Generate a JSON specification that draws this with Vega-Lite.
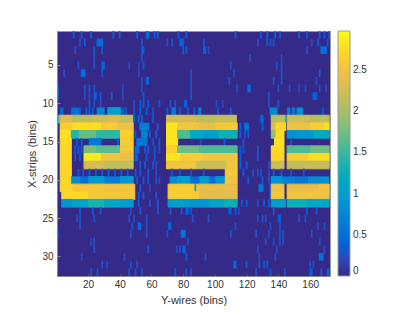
{"$schema":"https://vega.github.io/schema/vega-lite/v6.json","width":273,"height":245,"autosize":"none","padding":{"left":57,"top":31,"right":77,"bottom":42},"background":"white","view":{"fill":"#352A87","stroke":"#999"},
"data":{"values":[
{"x":10.5,"x2":11.5,"y":1,"v":0.4},{"x":15.5,"x2":16.5,"y":1,"v":0.32},{"x":21.5,"x2":22.5,"y":1,"v":0.32},{"x":35.5,"x2":36.5,"y":1,"v":0.32},{"x":39.5,"x2":40.5,"y":1,"v":0.32},{"x":50.5,"x2":51.5,"y":1,"v":0.4},{"x":56.5,"x2":58.5,"y":1,"v":0.5},{"x":61.5,"x2":62.5,"y":1,"v":0.32},{"x":63.5,"x2":64.5,"y":1,"v":0.4},{"x":76.5,"x2":77.5,"y":1,"v":0.32},{"x":81.5,"x2":82.5,"y":1,"v":0.32},{"x":112.5,"x2":113.5,"y":1,"v":0.32},{"x":128.5,"x2":129.5,"y":1,"v":0.32},{"x":132.5,"x2":133.5,"y":1,"v":0.32},{"x":137.5,"x2":138.5,"y":1,"v":0.4},{"x":140.5,"x2":141.5,"y":1,"v":0.32},{"x":152.5,"x2":153.5,"y":1,"v":0.32},{"x":157.5,"x2":158.5,"y":1,"v":0.32},{"x":165.5,"x2":166.5,"y":1,"v":0.32},{"x":168.5,"x2":169.5,"y":1,"v":0.32},{"x":171.5,"x2":172.5,"y":1,"v":0.32},
{"x":14.5,"x2":15.5,"y":2,"v":0.25},{"x":17.5,"x2":18.5,"y":2,"v":0.4},{"x":25.5,"x2":29.5,"y":2,"v":0.5},{"x":53.5,"x2":54.5,"y":2,"v":0.32},{"x":69.5,"x2":70.5,"y":2,"v":0.25},{"x":72.5,"x2":73.5,"y":2,"v":0.32},{"x":77.5,"x2":80.5,"y":2,"v":0.38},{"x":92.5,"x2":93.5,"y":2,"v":0.32},{"x":126.5,"x2":127.5,"y":2,"v":0.25},{"x":132.5,"x2":133.5,"y":2,"v":0.32},{"x":134.5,"x2":135.5,"y":2,"v":0.32},{"x":136.5,"x2":137.5,"y":2,"v":0.32},{"x":160.5,"x2":161.5,"y":2,"v":0.25},{"x":164.5,"x2":165.5,"y":2,"v":0.32},{"x":170.5,"x2":171.5,"y":2,"v":0.32},
{"x":11.5,"x2":12.5,"y":3,"v":0.25},{"x":23.5,"x2":24.5,"y":3,"v":0.32},{"x":28.5,"x2":29.5,"y":3,"v":0.32},{"x":53.5,"x2":55.5,"y":3,"v":0.38},{"x":79.5,"x2":80.5,"y":3,"v":0.32},{"x":81.5,"x2":82.5,"y":3,"v":0.32},{"x":92.5,"x2":94.5,"y":3,"v":0.38},{"x":95.5,"x2":96.5,"y":3,"v":0.25},{"x":157.5,"x2":158.5,"y":3,"v":0.28},{"x":166.5,"x2":170.5,"y":3,"v":0.55},
{"x":23.5,"x2":24.5,"y":4,"v":0.25},{"x":53.5,"x2":54.5,"y":4,"v":0.28},{"x":121.5,"x2":122.5,"y":4,"v":0.25},{"x":141.5,"x2":142.5,"y":4,"v":0.25},
{"x":13.5,"x2":14.5,"y":5,"v":0.25},{"x":23.5,"x2":24.5,"y":5,"v":0.25},{"x":28.5,"x2":30.5,"y":5,"v":0.45},{"x":45.5,"x2":46.5,"y":5,"v":0.25},{"x":51.5,"x2":52.5,"y":5,"v":0.25},{"x":54.5,"x2":55.5,"y":5,"v":0.28},{"x":109.5,"x2":110.5,"y":5,"v":0.28},{"x":138.5,"x2":139.5,"y":5,"v":0.28},{"x":141.5,"x2":142.5,"y":5,"v":0.28},
{"x":4.5,"x2":5.5,"y":6,"v":0.25},{"x":15.5,"x2":18.5,"y":6,"v":0.5},{"x":28.5,"x2":29.5,"y":6,"v":0.28},{"x":51.5,"x2":52.5,"y":6,"v":0.25},{"x":84.5,"x2":85.5,"y":6,"v":0.28},{"x":111.5,"x2":112.5,"y":6,"v":0.25},{"x":141.5,"x2":142.5,"y":6,"v":0.28},{"x":165.5,"x2":166.5,"y":6,"v":0.28},
{"x":53.5,"x2":54.5,"y":7,"v":0.25},{"x":56.5,"x2":58.5,"y":7,"v":0.42},{"x":84.5,"x2":85.5,"y":7,"v":0.28},{"x":108.5,"x2":109.5,"y":7,"v":0.28},{"x":136.5,"x2":137.5,"y":7,"v":0.25},{"x":141.5,"x2":142.5,"y":7,"v":0.28},{"x":163.5,"x2":164.5,"y":7,"v":0.28},
{"x":0.5,"x2":1.5,"y":8,"v":0.55},{"x":17.5,"x2":18.5,"y":8,"v":0.28},{"x":20.5,"x2":21.5,"y":8,"v":0.32},{"x":23.5,"x2":24.5,"y":8,"v":0.28},{"x":41.5,"x2":42.5,"y":8,"v":0.25},{"x":53.5,"x2":54.5,"y":8,"v":0.28},{"x":84.5,"x2":85.5,"y":8,"v":0.28},{"x":113.5,"x2":114.5,"y":8,"v":0.28},{"x":120.5,"x2":122.5,"y":8,"v":0.5},{"x":139.5,"x2":140.5,"y":8,"v":0.28},{"x":146.5,"x2":147.5,"y":8,"v":0.25},{"x":152.5,"x2":153.5,"y":8,"v":0.25},{"x":156.5,"x2":157.5,"y":8,"v":0.25},{"x":165.5,"x2":166.5,"y":8,"v":0.25},{"x":169.5,"x2":170.5,"y":8,"v":0.25},
{"x":0.5,"x2":1.5,"y":9,"v":0.55},{"x":17.5,"x2":18.5,"y":9,"v":0.25},{"x":20.5,"x2":21.5,"y":9,"v":0.28},{"x":23.5,"x2":25.5,"y":9,"v":0.38},{"x":27.5,"x2":28.5,"y":9,"v":0.28},{"x":34.5,"x2":35.5,"y":9,"v":0.28},{"x":41.5,"x2":42.5,"y":9,"v":0.25},{"x":54.5,"x2":55.5,"y":9,"v":0.32},{"x":84.5,"x2":85.5,"y":9,"v":0.28},{"x":133.5,"x2":134.5,"y":9,"v":0.28},{"x":161.5,"x2":164.5,"y":9,"v":0.38},
{"x":20.5,"x2":21.5,"y":10,"v":0.32},{"x":23.5,"x2":24.5,"y":10,"v":0.28},{"x":27.5,"x2":28.5,"y":10,"v":0.32},{"x":48.5,"x2":49.5,"y":10,"v":0.25},{"x":52.5,"x2":53.5,"y":10,"v":0.32},{"x":54.5,"x2":55.5,"y":10,"v":0.32},{"x":57.5,"x2":58.5,"y":10,"v":0.32},{"x":64.5,"x2":65.5,"y":10,"v":0.25},{"x":71.5,"x2":72.5,"y":10,"v":0.28},{"x":74.5,"x2":75.5,"y":10,"v":0.25},{"x":80.5,"x2":82.5,"y":10,"v":0.38},{"x":100.5,"x2":101.5,"y":10,"v":0.25},{"x":104.5,"x2":105.5,"y":10,"v":0.25},{"x":133.5,"x2":134.5,"y":10,"v":0.28},{"x":139.5,"x2":140.5,"y":10,"v":0.32},
{"x":2.5,"x2":4.5,"y":11,"v":0.5},{"x":9.5,"x2":14.5,"y":11,"v":0.55},{"x":14.5,"x2":15.5,"y":11,"v":0.35},{"x":18.5,"x2":19.5,"y":11,"v":0.4},{"x":20.5,"x2":21.5,"y":11,"v":0.4},{"x":22.5,"x2":23.5,"y":11,"v":0.35},{"x":25.5,"x2":30.5,"y":11,"v":0.75},{"x":32.5,"x2":40.5,"y":11,"v":1.0},{"x":41.5,"x2":42.5,"y":11,"v":0.5},{"x":43.5,"x2":44.5,"y":11,"v":0.5},{"x":48.5,"x2":49.5,"y":11,"v":0.4},{"x":52.5,"x2":53.5,"y":11,"v":0.4},{"x":56.5,"x2":57.5,"y":11,"v":0.4},{"x":60.5,"x2":61.5,"y":11,"v":0.32},{"x":69.5,"x2":70.5,"y":11,"v":0.4},{"x":72.5,"x2":75.5,"y":11,"v":0.6},{"x":77.5,"x2":78.5,"y":11,"v":0.4},{"x":82.5,"x2":83.5,"y":11,"v":0.4},{"x":86.5,"x2":87.5,"y":11,"v":0.4},{"x":89.5,"x2":91.5,"y":11,"v":0.6},{"x":101.5,"x2":102.5,"y":11,"v":0.32},{"x":109.5,"x2":110.5,"y":11,"v":0.32},{"x":134.5,"x2":139.5,"y":11,"v":0.75},{"x":145.5,"x2":147.5,"y":11,"v":0.7},{"x":148.5,"x2":150.5,"y":11,"v":0.6},{"x":151.5,"x2":155.5,"y":11,"v":0.85},{"x":167.5,"x2":168.5,"y":11,"v":0.4},
{"x":1.5,"x2":2.5,"y":12,"v":1.6},{"x":2.5,"x2":10.5,"y":12,"v":2.3},{"x":10.5,"x2":22.5,"y":12,"v":2.1},{"x":22.5,"x2":32.5,"y":12,"v":2.2},{"x":32.5,"x2":40.5,"y":12,"v":2.3},{"x":40.5,"x2":48.5,"y":12,"v":2.15},
{"x":48.5,"x2":49.5,"y":12,"v":0.45},{"x":51.5,"x2":52.5,"y":12,"v":0.5},{"x":53.5,"x2":54.5,"y":12,"v":0.5},{"x":60.5,"x2":61.5,"y":12,"v":0.32},{"x":69.5,"x2":76.5,"y":12,"v":2.2},{"x":76.5,"x2":88.5,"y":12,"v":2.25},{"x":88.5,"x2":100.5,"y":12,"v":2.1},{"x":100.5,"x2":113.5,"y":12,"v":2.15},{"x":128.5,"x2":130.5,"y":12,"v":0.45},{"x":135.5,"x2":144.5,"y":12,"v":2.1},{"x":144.5,"x2":145.5,"y":12,"v":0.7},{"x":145.5,"x2":160.5,"y":12,"v":2.2},{"x":160.5,"x2":172,"y":12,"v":2.1},
{"x":2.5,"x2":10.5,"y":13,"v":2.6},{"x":10.5,"x2":28.5,"y":13,"v":2.75},{"x":28.5,"x2":38.5,"y":13,"v":2.6},{"x":38.5,"x2":48.5,"y":13,"v":2.45},{"x":52.5,"x2":58.5,"y":13,"v":0.7},{"x":63.5,"x2":64.5,"y":13,"v":0.32},{"x":69.5,"x2":76.5,"y":13,"v":2.8},{"x":76.5,"x2":90.5,"y":13,"v":2.5},{"x":90.5,"x2":100.5,"y":13,"v":2.4},{"x":100.5,"x2":114,"y":13,"v":2.55},{"x":115.5,"x2":116.5,"y":13,"v":0.4},{"x":118.5,"x2":121.5,"y":13,"v":0.5},{"x":129.5,"x2":130.5,"y":13,"v":0.4},{"x":135.5,"x2":138.5,"y":13,"v":2.3},{"x":138.5,"x2":144.5,"y":13,"v":2.7},{"x":145.5,"x2":160.5,"y":13,"v":2.45},{"x":160.5,"x2":168.5,"y":13,"v":2.6},{"x":168.5,"x2":172,"y":13,"v":2.75},
{"x":2.5,"x2":9.5,"y":14,"v":2.8},{"x":9.5,"x2":14.5,"y":14,"v":1.4},{"x":14.5,"x2":25.5,"y":14,"v":1.7},{"x":25.5,"x2":40.5,"y":14,"v":1.45},{"x":40.5,"x2":48.5,"y":14,"v":2.65},{"x":49.5,"x2":50.5,"y":14,"v":0.4},{"x":53.5,"x2":57.5,"y":14,"v":0.75},{"x":58.5,"x2":59.5,"y":14,"v":0.32},{"x":62.5,"x2":63.5,"y":14,"v":0.32},{"x":69.5,"x2":76.5,"y":14,"v":2.8},{"x":76.5,"x2":84.5,"y":14,"v":1.6},{"x":84.5,"x2":92.5,"y":14,"v":1.2},{"x":92.5,"x2":102.5,"y":14,"v":1.05},{"x":102.5,"x2":114,"y":14,"v":1.3},{"x":115.5,"x2":116.5,"y":14,"v":0.32},{"x":118.5,"x2":119.5,"y":14,"v":0.4},{"x":120.5,"x2":121.5,"y":14,"v":0.32},{"x":135.5,"x2":138.5,"y":14,"v":1.9},{"x":138.5,"x2":143.5,"y":14,"v":2.75},{"x":145.5,"x2":152.5,"y":14,"v":0.9},{"x":152.5,"x2":162.5,"y":14,"v":0.95},{"x":162.5,"x2":172,"y":14,"v":1.2},
{"x":2.5,"x2":9.5,"y":15,"v":2.75},{"x":12.5,"x2":13.5,"y":15,"v":0.4},{"x":15.5,"x2":16.5,"y":15,"v":0.32},{"x":20.5,"x2":28.5,"y":15,"v":0.6},{"x":38.5,"x2":39.5,"y":15,"v":0.4},{"x":40.5,"x2":48.5,"y":15,"v":2.6},{"x":50.5,"x2":57.5,"y":15,"v":0.6},{"x":60.5,"x2":61.5,"y":15,"v":0.32},{"x":64.5,"x2":65.5,"y":15,"v":0.32},{"x":69.5,"x2":76.5,"y":15,"v":2.8},{"x":90.5,"x2":91.5,"y":15,"v":0.25},{"x":105.5,"x2":106.5,"y":15,"v":0.32},{"x":117.5,"x2":118.5,"y":15,"v":0.25},{"x":137.5,"x2":143.5,"y":15,"v":2.8},{"x":147.5,"x2":148.5,"y":15,"v":0.25},
{"x":2.5,"x2":9.5,"y":16,"v":2.7},{"x":11.5,"x2":12.5,"y":16,"v":0.4},{"x":13.5,"x2":14.5,"y":16,"v":0.32},{"x":15.5,"x2":16.5,"y":16,"v":0.32},{"x":17.5,"x2":25.5,"y":16,"v":1.8},{"x":25.5,"x2":40.5,"y":16,"v":1.65},{"x":40.5,"x2":48.5,"y":16,"v":2.55},{"x":49.5,"x2":52.5,"y":16,"v":0.5},{"x":55.5,"x2":56.5,"y":16,"v":0.32},{"x":57.5,"x2":58.5,"y":16,"v":0.32},{"x":61.5,"x2":62.5,"y":16,"v":0.32},{"x":64.5,"x2":65.5,"y":16,"v":0.25},{"x":69.5,"x2":76.5,"y":16,"v":2.65},{"x":76.5,"x2":90.5,"y":16,"v":1.75},{"x":90.5,"x2":114,"y":16,"v":1.6},{"x":115.5,"x2":116.5,"y":16,"v":0.4},{"x":117.5,"x2":118.5,"y":16,"v":0.32},{"x":126.5,"x2":127.5,"y":16,"v":0.32},{"x":135.5,"x2":143.5,"y":16,"v":2.75},{"x":145.5,"x2":160.5,"y":16,"v":1.6},{"x":160.5,"x2":172,"y":16,"v":1.75},
{"x":2.5,"x2":9.5,"y":17,"v":2.7},{"x":11.5,"x2":12.5,"y":17,"v":0.32},{"x":14.5,"x2":15.5,"y":17,"v":0.32},{"x":17.5,"x2":28.5,"y":17,"v":2.85},{"x":28.5,"x2":40.5,"y":17,"v":2.5},{"x":40.5,"x2":48.5,"y":17,"v":2.4},{"x":49.5,"x2":51.5,"y":17,"v":0.45},{"x":56.5,"x2":57.5,"y":17,"v":0.32},{"x":61.5,"x2":62.5,"y":17,"v":0.32},{"x":69.5,"x2":78.5,"y":17,"v":2.8},{"x":78.5,"x2":92.5,"y":17,"v":2.6},{"x":92.5,"x2":114,"y":17,"v":2.5},{"x":115.5,"x2":116.5,"y":17,"v":0.4},{"x":126.5,"x2":127.5,"y":17,"v":0.32},{"x":135.5,"x2":143.5,"y":17,"v":2.7},{"x":145.5,"x2":158.5,"y":17,"v":2.6},{"x":158.5,"x2":172,"y":17,"v":2.75},
{"x":2.5,"x2":9.5,"y":18,"v":2.7},{"x":17.5,"x2":30.5,"y":18,"v":2.25},{"x":30.5,"x2":48.5,"y":18,"v":2.15},{"x":52.5,"x2":53.5,"y":18,"v":0.32},{"x":55.5,"x2":56.5,"y":18,"v":0.32},{"x":60.5,"x2":61.5,"y":18,"v":0.32},{"x":62.5,"x2":63.5,"y":18,"v":0.25},{"x":69.5,"x2":88.5,"y":18,"v":2.5},{"x":88.5,"x2":107.5,"y":18,"v":2.2},{"x":107.5,"x2":114,"y":18,"v":2.5},{"x":115.5,"x2":116.5,"y":18,"v":0.4},{"x":119.5,"x2":120.5,"y":18,"v":0.32},{"x":133.5,"x2":134.5,"y":18,"v":0.25},{"x":135.5,"x2":143.5,"y":18,"v":2.2},{"x":145.5,"x2":172,"y":18,"v":2.15},
{"x":2.5,"x2":9.5,"y":19,"v":2.7},{"x":13.5,"x2":14.5,"y":19,"v":0.32},{"x":16.5,"x2":17.5,"y":19,"v":0.32},{"x":20.5,"x2":21.5,"y":19,"v":0.32},{"x":24.5,"x2":25.5,"y":19,"v":0.32},{"x":28.5,"x2":29.5,"y":19,"v":0.32},{"x":32.5,"x2":33.5,"y":19,"v":0.32},{"x":36.5,"x2":37.5,"y":19,"v":0.32},{"x":40.5,"x2":41.5,"y":19,"v":0.32},{"x":44.5,"x2":45.5,"y":19,"v":0.32},{"x":49.5,"x2":50.5,"y":19,"v":0.32},{"x":52.5,"x2":53.5,"y":19,"v":0.32},{"x":57.5,"x2":58.5,"y":19,"v":0.32},{"x":62.5,"x2":63.5,"y":19,"v":0.25},{"x":72.5,"x2":73.5,"y":19,"v":0.32},{"x":77.5,"x2":78.5,"y":19,"v":0.32},{"x":84.5,"x2":85.5,"y":19,"v":0.25},{"x":92.5,"x2":93.5,"y":19,"v":0.25},{"x":106.5,"x2":114,"y":19,"v":2.55},{"x":117.5,"x2":118.5,"y":19,"v":0.32},{"x":123.5,"x2":124.5,"y":19,"v":0.25},{"x":126.5,"x2":127.5,"y":19,"v":0.25},{"x":128.5,"x2":129.5,"y":19,"v":0.32},{"x":133.5,"x2":134.5,"y":19,"v":0.25},{"x":136.5,"x2":137.5,"y":19,"v":0.32},{"x":141.5,"x2":142.5,"y":19,"v":0.32},{"x":147.5,"x2":148.5,"y":19,"v":0.25},{"x":155.5,"x2":156.5,"y":19,"v":0.25},
{"x":2.5,"x2":9.5,"y":20,"v":2.7},{"x":9.5,"x2":15.5,"y":20,"v":0.8},{"x":15.5,"x2":20.5,"y":20,"v":0.5},{"x":20.5,"x2":30.5,"y":20,"v":0.95},{"x":30.5,"x2":40.5,"y":20,"v":0.7},{"x":40.5,"x2":48.5,"y":20,"v":0.95},{"x":50.5,"x2":51.5,"y":20,"v":0.32},{"x":54.5,"x2":55.5,"y":20,"v":0.32},{"x":57.5,"x2":58.5,"y":20,"v":0.32},{"x":62.5,"x2":63.5,"y":20,"v":0.25},{"x":64.5,"x2":65.5,"y":20,"v":0.25},{"x":71.5,"x2":76.5,"y":20,"v":0.8},{"x":76.5,"x2":84.5,"y":20,"v":1.0},{"x":84.5,"x2":90.5,"y":20,"v":0.5},{"x":90.5,"x2":96.5,"y":20,"v":1.0},{"x":96.5,"x2":100.5,"y":20,"v":0.5},{"x":100.5,"x2":106.5,"y":20,"v":0.9},{"x":106.5,"x2":114,"y":20,"v":2.5},{"x":120.5,"x2":121.5,"y":20,"v":0.32},{"x":129.5,"x2":130.5,"y":20,"v":0.32},{"x":133.5,"x2":134.5,"y":20,"v":0.25},{"x":135.5,"x2":142.5,"y":20,"v":0.9},{"x":142.5,"x2":150.5,"y":20,"v":0.7},{"x":150.5,"x2":158.5,"y":20,"v":0.6},{"x":158.5,"x2":172,"y":20,"v":0.85},
{"x":2.5,"x2":10.5,"y":21,"v":2.7},{"x":10.5,"x2":30.5,"y":21,"v":2.55},{"x":30.5,"x2":49.5,"y":21,"v":2.5},{"x":52.5,"x2":53.5,"y":21,"v":0.32},{"x":58.5,"x2":59.5,"y":21,"v":0.25},{"x":70.5,"x2":87.5,"y":21,"v":2.6},{"x":87.5,"x2":88.5,"y":21,"v":1.0},{"x":88.5,"x2":114,"y":21,"v":2.4},{"x":127.5,"x2":130.5,"y":21,"v":0.6},{"x":134.5,"x2":135.5,"y":21,"v":0.32},{"x":135.5,"x2":143.5,"y":21,"v":2.45},{"x":145.5,"x2":165.5,"y":21,"v":2.4},{"x":165.5,"x2":172,"y":21,"v":2.5},
{"x":3.5,"x2":20.5,"y":22,"v":2.7},{"x":20.5,"x2":30.5,"y":22,"v":2.55},{"x":30.5,"x2":49.5,"y":22,"v":2.55},{"x":51.5,"x2":52.5,"y":22,"v":0.32},{"x":54.5,"x2":55.5,"y":22,"v":0.32},{"x":62.5,"x2":63.5,"y":22,"v":0.25},{"x":70.5,"x2":90.5,"y":22,"v":2.6},{"x":90.5,"x2":114,"y":22,"v":2.35},{"x":134.5,"x2":135.5,"y":22,"v":0.32},{"x":135.5,"x2":143.5,"y":22,"v":2.55},{"x":145.5,"x2":172,"y":22,"v":2.5},
{"x":3.5,"x2":10.5,"y":23,"v":0.9},{"x":10.5,"x2":20.5,"y":23,"v":1.1},{"x":20.5,"x2":30.5,"y":23,"v":1.35},{"x":30.5,"x2":40.5,"y":23,"v":1.15},{"x":40.5,"x2":48.5,"y":23,"v":1.0},{"x":51.5,"x2":52.5,"y":23,"v":0.4},{"x":58.5,"x2":59.5,"y":23,"v":0.32},{"x":63.5,"x2":64.5,"y":23,"v":0.32},{"x":70.5,"x2":84.5,"y":23,"v":1.05},{"x":84.5,"x2":96.5,"y":23,"v":0.9},{"x":96.5,"x2":105.5,"y":23,"v":1.1},{"x":105.5,"x2":114,"y":23,"v":1.3},{"x":116.5,"x2":117.5,"y":23,"v":0.32},{"x":119.5,"x2":120.5,"y":23,"v":0.32},{"x":126.5,"x2":127.5,"y":23,"v":0.25},{"x":130.5,"x2":131.5,"y":23,"v":0.32},{"x":133.5,"x2":134.5,"y":23,"v":0.32},{"x":135.5,"x2":144.5,"y":23,"v":1.0},{"x":145.5,"x2":158.5,"y":23,"v":1.3},{"x":158.5,"x2":172,"y":23,"v":1.15},
{"x":14.5,"x2":15.5,"y":24,"v":0.32},{"x":22.5,"x2":23.5,"y":24,"v":0.36},{"x":27.5,"x2":28.5,"y":24,"v":0.28},{"x":46.5,"x2":47.5,"y":24,"v":0.25},{"x":52.5,"x2":53.5,"y":24,"v":0.28},{"x":63.5,"x2":64.5,"y":24,"v":0.28},{"x":71.5,"x2":72.5,"y":24,"v":0.28},{"x":78.5,"x2":79.5,"y":24,"v":0.28},{"x":81.5,"x2":83.5,"y":24,"v":0.42},{"x":84.5,"x2":85.5,"y":24,"v":0.28},{"x":108.5,"x2":110.5,"y":24,"v":0.38},{"x":112.5,"x2":113.5,"y":24,"v":0.28},{"x":114.5,"x2":115.5,"y":24,"v":0.28},{"x":136.5,"x2":137.5,"y":24,"v":0.28},{"x":157.5,"x2":158.5,"y":24,"v":0.32},{"x":163.5,"x2":164.5,"y":24,"v":0.28},
{"x":12.5,"x2":13.5,"y":25,"v":0.25},{"x":14.5,"x2":15.5,"y":25,"v":0.32},{"x":23.5,"x2":24.5,"y":25,"v":0.28},{"x":45.5,"x2":46.5,"y":25,"v":0.25},{"x":48.5,"x2":49.5,"y":25,"v":0.28},{"x":56.5,"x2":57.5,"y":25,"v":0.28},{"x":85.5,"x2":86.5,"y":25,"v":0.25},{"x":95.5,"x2":96.5,"y":25,"v":0.28},{"x":126.5,"x2":127.5,"y":25,"v":0.25},{"x":129.5,"x2":130.5,"y":25,"v":0.25},{"x":131.5,"x2":132.5,"y":25,"v":0.25},{"x":139.5,"x2":141.5,"y":25,"v":0.38},{"x":152.5,"x2":153.5,"y":25,"v":0.25},{"x":156.5,"x2":157.5,"y":25,"v":0.25},
{"x":14.5,"x2":15.5,"y":26,"v":0.28},{"x":47.5,"x2":48.5,"y":26,"v":0.28},{"x":51.5,"x2":53.5,"y":26,"v":0.45},{"x":56.5,"x2":57.5,"y":26,"v":0.28},{"x":70.5,"x2":72.5,"y":26,"v":0.42},{"x":112.5,"x2":113.5,"y":26,"v":0.25},{"x":134.5,"x2":135.5,"y":26,"v":0.25},{"x":140.5,"x2":141.5,"y":26,"v":0.28},{"x":164.5,"x2":165.5,"y":26,"v":0.25},{"x":168.5,"x2":169.5,"y":26,"v":0.25},
{"x":0.5,"x2":1.5,"y":27,"v":0.4},{"x":46.5,"x2":47.5,"y":27,"v":0.28},{"x":56.5,"x2":57.5,"y":27,"v":0.28},{"x":69.5,"x2":70.5,"y":27,"v":0.25},{"x":78.5,"x2":81.5,"y":27,"v":0.55},{"x":109.5,"x2":110.5,"y":27,"v":0.28},{"x":125.5,"x2":126.5,"y":27,"v":0.25},{"x":133.5,"x2":134.5,"y":27,"v":0.28},{"x":140.5,"x2":141.5,"y":27,"v":0.32},{"x":142.5,"x2":143.5,"y":27,"v":0.28},{"x":160.5,"x2":161.5,"y":27,"v":0.25},
{"x":21.5,"x2":22.5,"y":28,"v":0.22},{"x":23.5,"x2":24.5,"y":28,"v":0.28},{"x":82.5,"x2":83.5,"y":28,"v":0.25},{"x":131.5,"x2":132.5,"y":28,"v":0.25},{"x":136.5,"x2":137.5,"y":28,"v":0.25},{"x":140.5,"x2":141.5,"y":28,"v":0.32},{"x":142.5,"x2":143.5,"y":28,"v":0.28},{"x":165.5,"x2":166.5,"y":28,"v":0.25},
{"x":23.5,"x2":24.5,"y":29,"v":0.28},{"x":57.5,"x2":58.5,"y":29,"v":0.28},{"x":75.5,"x2":76.5,"y":29,"v":0.25},{"x":77.5,"x2":78.5,"y":29,"v":0.25},{"x":79.5,"x2":81.5,"y":29,"v":0.42},{"x":126.5,"x2":127.5,"y":29,"v":0.25},{"x":138.5,"x2":139.5,"y":29,"v":0.25},{"x":168.5,"x2":169.5,"y":29,"v":0.25},
{"x":15.5,"x2":16.5,"y":30,"v":0.25},{"x":42.5,"x2":43.5,"y":30,"v":0.22},{"x":81.5,"x2":82.5,"y":30,"v":0.28},{"x":93.5,"x2":94.5,"y":30,"v":0.25},{"x":127.5,"x2":128.5,"y":30,"v":0.25},{"x":137.5,"x2":138.5,"y":30,"v":0.25},{"x":165.5,"x2":168.5,"y":30,"v":0.5},
{"x":28.5,"x2":29.5,"y":31,"v":0.25},{"x":31.5,"x2":32.5,"y":31,"v":0.25},{"x":46.5,"x2":47.5,"y":31,"v":0.28},{"x":50.5,"x2":51.5,"y":31,"v":0.25},{"x":111.5,"x2":113.5,"y":31,"v":0.45},{"x":119.5,"x2":120.5,"y":31,"v":0.25},{"x":127.5,"x2":128.5,"y":31,"v":0.32},{"x":130.5,"x2":131.5,"y":31,"v":0.32},{"x":132.5,"x2":133.5,"y":31,"v":0.32},{"x":159.5,"x2":160.5,"y":31,"v":0.25},{"x":161.5,"x2":162.5,"y":31,"v":0.25},
{"x":21.5,"x2":22.5,"y":32,"v":0.28},{"x":25.5,"x2":26.5,"y":32,"v":0.28},{"x":45.5,"x2":46.5,"y":32,"v":0.28},{"x":49.5,"x2":50.5,"y":32,"v":0.28},{"x":53.5,"x2":54.5,"y":32,"v":0.28},{"x":74.5,"x2":75.5,"y":32,"v":0.28},{"x":81.5,"x2":82.5,"y":32,"v":0.28},{"x":84.5,"x2":85.5,"y":32,"v":0.28},{"x":125.5,"x2":126.5,"y":32,"v":0.25},{"x":134.5,"x2":135.5,"y":32,"v":0.32},{"x":143.5,"x2":144.5,"y":32,"v":0.28},{"x":159.5,"x2":161.5,"y":32,"v":0.38},{"x":166.5,"x2":167.5,"y":32,"v":0.28},{"x":170.5,"x2":172,"y":32,"v":0.42}
]},
"mark":{"type":"rect","clip":true,"stroke":{"expr":"scale('fill',datum.v)"},"strokeWidth":{"expr":"datum.v>0.85?1:0.2"}},
"encoding":{
"x":{"field":"x","type":"quantitative","scale":{"domain":[0.5,172.5],"nice":false,"zero":false},"axis":{"values":[20,40,60,80,100,120,140,160],"title":"Y-wires (bins)","grid":false,"tickSize":-3,"tickColor":"#555","domainColor":"#888","labelPadding":6,"labelFont":"Liberation Sans","labelFontSize":10,"labelColor":"#333","titleFont":"Liberation Sans","titleFontSize":11,"titleFontWeight":"normal","titleColor":"#333","titlePadding":5,"labelFlush":false}},
"x2":{"field":"x2"},
"y":{"field":"y","type":"ordinal","scale":{"domain":[1,2,3,4,5,6,7,8,9,10,11,12,13,14,15,16,17,18,19,20,21,22,23,24,25,26,27,28,29,30,31,32],"paddingInner":0,"paddingOuter":0},"axis":{"values":[5,10,15,20,25,30],"title":"X-strips (bins)","grid":false,"tickSize":-3,"tickColor":"#888","domainColor":"#888","labelPadding":7,"labelAngle":0,"labelFont":"Liberation Sans","labelFontSize":10,"labelColor":"#333","titleFont":"Liberation Sans","titleFontSize":11,"titleFontWeight":"normal","titleColor":"#333","titlePadding":4}},
"fill":{"field":"v","type":"quantitative","scale":{"domain":[0,2.97],"range":["#352A87","#0F5CDD","#127DD8","#079CCF","#15B1B4","#59BD8C","#A5BE6B","#E1BA52","#FCCE2E","#F9FB0E"]},"legend":{"type":"gradient","title":null,"orient":"none","legendX":281,"legendY":0,"direction":"vertical","gradientLength":245,"gradientThickness":12,"values":[0,0.5,1,1.5,2,2.5],"format":".1~f","labelFont":"Liberation Sans","labelFontSize":10,"labelColor":"#333","labelOffset":3,"gradientStrokeColor":"#999","gradientStrokeWidth":1}}
}}
